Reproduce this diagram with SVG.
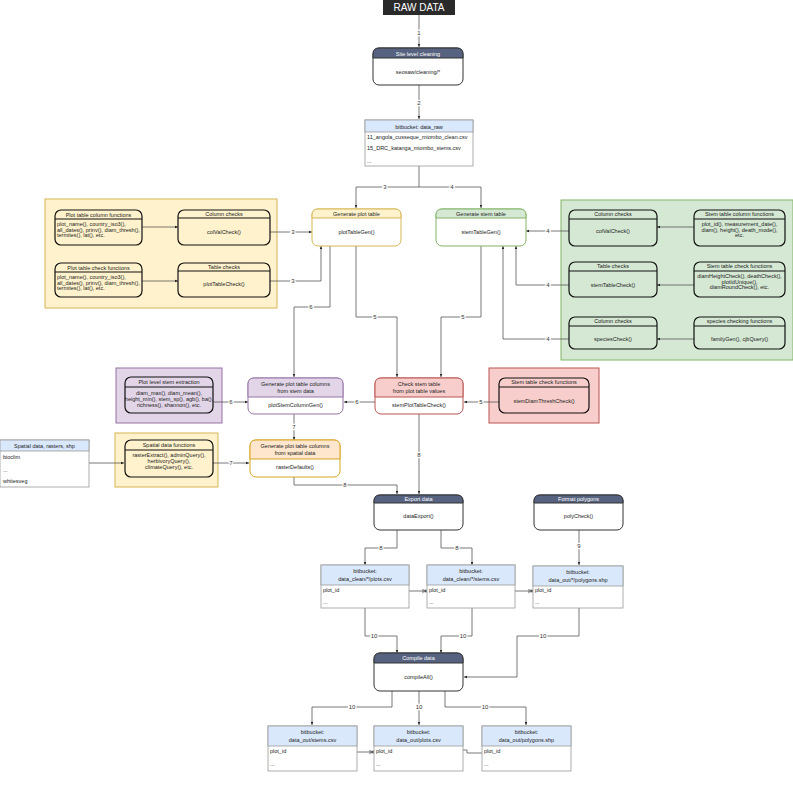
<svg xmlns="http://www.w3.org/2000/svg" width="793" height="800" viewBox="0 0 793 800">
<style>
text{font-family:"Liberation Sans",Arial,sans-serif;font-size:5.5px;fill:#222}
.c{text-anchor:middle}
.hw{fill:#fff;text-anchor:middle}
.dk{fill:#fff;stroke:#333;stroke-width:1}
.dkh{fill:#56627f;stroke:#333;stroke-width:1}
.blk{fill:none;stroke:#111;stroke-width:1.2}
.tb{fill:#fff;stroke:#9a9a9a;stroke-width:0.8}
.tbh{fill:#dae8fc;stroke:#9a9a9a;stroke-width:0.8}
.ln{fill:none;stroke:#555;stroke-width:0.8;marker-end:url(#a)}
.er{fill:none;stroke:#555;stroke-width:0.8;marker-start:url(#b);marker-end:url(#b)}
.lbl{font-size:6px;text-anchor:middle;stroke:#fff;stroke-width:2.5;paint-order:stroke;fill:#333}
</style>
<defs>
<marker id="a" viewBox="0 0 10 10" refX="10" refY="5" markerWidth="4" markerHeight="4" orient="auto"><path d="M0,1 L10,5 L0,9 Z" fill="#222"/></marker>
<marker id="b" viewBox="0 0 10 10" refX="10" refY="5" markerWidth="5" markerHeight="5" orient="auto" markerUnits="userSpaceOnUse"><path d="M0,5 H10 M8,1 V9 M0,1 L8,5 L0,9" fill="none" stroke="#333" stroke-width="1"/></marker>
</defs>
<rect width="793" height="800" fill="#fff"/>

<!-- containers -->
<g id="cont-yellow"><rect x="45" y="199" width="232" height="109" fill="#fff2cc" stroke="#d6b656"/></g>
<g id="cont-green"><rect x="561" y="200" width="232" height="160" fill="#d5e8d4" stroke="#82b366"/></g>
<g id="cont-purple"><rect x="116" y="368" width="106" height="55" fill="#e1d5e7" stroke="#9673a6"/></g>
<g id="cont-red"><rect x="489" y="368" width="110" height="55" fill="#f8cecc" stroke="#b85450"/></g>
<g id="cont-yellow2"><rect x="115" y="433" width="103" height="54" fill="#fff2cc" stroke="#d6b656"/></g>

<g id="connectors">
<path class="ln" d="M419,15 V47"/>
<path class="ln" d="M419,85 V119"/>
<path class="ln" d="M419,166 V187 H356 V208"/>
<path class="ln" d="M419,187 H481 V208"/>
<path class="ln" d="M142,227 H178"/>
<path class="ln" d="M142,281 H178"/>
<path class="ln" d="M270,232 H312"/>
<path class="ln" d="M270,281 H321 V246"/>
<path class="ln" d="M694,227 H657"/>
<path class="ln" d="M694,285 H657"/>
<path class="ln" d="M694,339 H657"/>
<path class="ln" d="M569,231 H526"/>
<path class="ln" d="M569,285 H516 V246"/>
<path class="ln" d="M569,339 H503 V246"/>
<path class="ln" d="M330,246 V307 H294 V377"/>
<path class="ln" d="M356,246 V317 H397 V377"/>
<path class="ln" d="M481,246 V317 H441 V377"/>
<path class="ln" d="M213,402 H248"/>
<path class="ln" d="M375,402 H344"/>
<path class="ln" d="M499,402 H464"/>
<path class="ln" d="M294,414 V440"/>
<path class="ln" d="M89,463 H124"/>
<path class="ln" d="M213,463 H249"/>
<path class="ln" d="M294,477 V485 H397 V494"/>
<path class="ln" d="M419,414 V494"/>
<path class="ln" d="M397,530 V548 H365 V565"/>
<path class="ln" d="M441,530 V548 H472 V565"/>
<path class="ln" d="M579,530 V565"/>
<path class="ln" d="M365,608 V636 H397 V653"/>
<path class="ln" d="M472,608 V636 H441 V653"/>
<path class="ln" d="M579,608 V636 H517 V677 H464"/>
<path class="ln" d="M392,691 V707 H312 V725"/>
<path class="ln" d="M419,691 V725"/>
<path class="ln" d="M445,691 V707 H526 V725"/>
<path class="er" d="M409,591 H427"/>
<path class="er" d="M515,591 H533"/>
<path class="er" d="M357,752 H374"/>
<path fill="none" stroke="#555" stroke-width="0.8" d="M463,750 H467 V753 H482"/>
<text class="lbl" x="419" y="35">1</text>
<text class="lbl" x="419" y="105">2</text>
<text class="lbl" x="385" y="189">3</text>
<text class="lbl" x="452" y="189">4</text>
<text class="lbl" x="293" y="234">3</text>
<text class="lbl" x="293" y="283">3</text>
<text class="lbl" x="548" y="233">4</text>
<text class="lbl" x="548" y="287">4</text>
<text class="lbl" x="548" y="341">4</text>
<text class="lbl" x="311" y="309">6</text>
<text class="lbl" x="375" y="319">5</text>
<text class="lbl" x="463" y="319">5</text>
<text class="lbl" x="231" y="404">6</text>
<text class="lbl" x="357" y="404">6</text>
<text class="lbl" x="481" y="404">5</text>
<text class="lbl" x="294" y="429">7</text>
<text class="lbl" x="231" y="465">7</text>
<text class="lbl" x="345" y="487">8</text>
<text class="lbl" x="419" y="457">8</text>
<text class="lbl" x="381" y="550">8</text>
<text class="lbl" x="457" y="550">8</text>
<text class="lbl" x="579" y="548">9</text>
<text class="lbl" x="374" y="638">10</text>
<text class="lbl" x="463" y="638">10</text>
<text class="lbl" x="543" y="638">10</text>
<text class="lbl" x="352" y="709">10</text>
<text class="lbl" x="419" y="709">10</text>
<text class="lbl" x="485" y="709">10</text>
</g>

<g id="raw-data"><rect x="383" y="0" width="72" height="15" fill="#2a2a2a"/><text x="419" y="11" class="hw" style="font-size:10px">RAW DATA</text></g>

<g id="site-cleaning">
<rect class="dk" x="373" y="48" width="90" height="37" rx="6"/>
<path class="dkh" d="M373,58 V54 Q373,48 379,48 H457 Q463,48 463,54 V58 Z"/>
<text class="hw" x="418" y="55.5">Site level cleaning</text>
<text class="c" x="418" y="74">seosaw/cleaning/*</text>
</g>

<g id="data-raw">
<rect class="tb" x="365" y="120" width="108" height="46"/>
<rect class="tbh" x="365" y="120" width="108" height="12"/>
<text class="c" x="419" y="128.5">bitbucket: data_raw</text>
<text x="367" y="139">11_angola_cusseque_miombo_clean.csv</text>
<text x="367" y="150">15_DRC_katanga_miombo_stems.csv</text>
<text x="367" y="163">...</text>
</g>

<g id="plot-table">
<rect x="312" y="209" width="89" height="37" rx="6" fill="#fff" stroke="#d6b656"/>
<path d="M312,218 V215 Q312,209 318,209 H395 Q401,209 401,215 V218 Z" fill="#fff2cc" stroke="#d6b656"/>
<text class="c" x="356.5" y="216">Generate plot table</text>
<text class="c" x="356.5" y="234">plotTableGen()</text>
</g>

<g id="stem-table">
<rect x="436" y="209" width="90" height="37" rx="6" fill="#fff" stroke="#82b366"/>
<path d="M436,218 V215 Q436,209 442,209 H520 Q526,209 526,215 V218 Z" fill="#d5e8d4" stroke="#82b366"/>
<text class="c" x="481" y="216">Generate stem table</text>
<text class="c" x="481" y="234">stemTableGen()</text>
</g>

<g id="plot-col-funcs">
<rect class="blk" x="55" y="210" width="87" height="35" rx="6"/>
<line x1="55" y1="219" x2="142" y2="219" stroke="#111"/>
<text class="c" x="98.5" y="216.5">Plot table column functions</text>
<text x="57" y="226">plot_name(), country_iso3(),</text>
<text x="57" y="231.5">all_dates(), prinv(), diam_thresh(),</text>
<text x="57" y="237">termites(), lat(), etc.</text>
</g>
<g id="plot-col-checks">
<rect class="blk" x="178" y="210" width="92" height="35" rx="6"/>
<line x1="178" y1="218" x2="270" y2="218" stroke="#111"/>
<text class="c" x="224" y="215.5">Column checks</text>
<text class="c" x="224" y="234">colValCheck()</text>
</g>
<g id="plot-check-funcs">
<rect class="blk" x="55" y="263" width="87" height="34" rx="6"/>
<line x1="55" y1="272" x2="142" y2="272" stroke="#111"/>
<text class="c" x="98.5" y="269.5">Plot table check functions</text>
<text x="57" y="279">plot_name(), country_iso3(),</text>
<text x="57" y="284.5">all_dates(), prinv(), diam_thresh(),</text>
<text x="57" y="290">termites(), lat(), etc.</text>
</g>
<g id="plot-table-checks">
<rect class="blk" x="178" y="263" width="92" height="34" rx="6"/>
<line x1="178" y1="271" x2="270" y2="271" stroke="#111"/>
<text class="c" x="224" y="268.5">Table checks</text>
<text class="c" x="224" y="286">plotTableCheck()</text>
</g>

<g id="stem-col-checks">
<rect class="blk" x="569" y="210" width="88" height="36" rx="6"/>
<line x1="569" y1="219" x2="657" y2="219" stroke="#111"/>
<text class="c" x="613" y="216">Column checks</text>
<text class="c" x="613" y="233">colValCheck()</text>
</g>
<g id="stem-col-funcs">
<rect class="blk" x="694" y="210" width="91" height="36" rx="6"/>
<line x1="694" y1="219" x2="785" y2="219" stroke="#111"/>
<text class="c" x="739.5" y="216">Stem table column functions</text>
<text class="c" x="739.5" y="226">plot_id(), measurement_date(),</text>
<text class="c" x="739.5" y="231.5">diam(), height(), death_mode(),</text>
<text class="c" x="739.5" y="237">etc.</text>
</g>
<g id="stem-table-checks">
<rect class="blk" x="569" y="262" width="88" height="35" rx="6"/>
<line x1="569" y1="271" x2="657" y2="271" stroke="#111"/>
<text class="c" x="613" y="268">Table checks</text>
<text class="c" x="613" y="287">stemTableCheck()</text>
</g>
<g id="stem-check-funcs">
<rect class="blk" x="694" y="262" width="91" height="35" rx="6"/>
<line x1="694" y1="271" x2="785" y2="271" stroke="#111"/>
<text class="c" x="739.5" y="268">Stem table check functions</text>
<text class="c" x="739.5" y="278">diamHeightCheck(), deathCheck(),</text>
<text class="c" x="739.5" y="283.5">plotIdUnique(),</text>
<text class="c" x="739.5" y="289">diamRoundCheck(), etc.</text>
</g>
<g id="species-checks">
<rect class="blk" x="569" y="317" width="88" height="32" rx="6"/>
<line x1="569" y1="326" x2="657" y2="326" stroke="#111"/>
<text class="c" x="613" y="323">Column checks</text>
<text class="c" x="613" y="341">speciesCheck()</text>
</g>
<g id="species-funcs">
<rect class="blk" x="694" y="317" width="91" height="32" rx="6"/>
<line x1="694" y1="326" x2="785" y2="326" stroke="#111"/>
<text class="c" x="739.5" y="323">species checking functions</text>
<text class="c" x="739.5" y="341">familyGen(), cjbQuery()</text>
</g>

<g id="plot-stem-extract">
<rect class="blk" x="125" y="377" width="88" height="36" rx="6"/>
<line x1="125" y1="387" x2="213" y2="387" stroke="#111"/>
<text class="c" x="169" y="384">Plot level stem extraction</text>
<text class="c" x="169" y="395">diam_max(), diam_mean(),</text>
<text class="c" x="169" y="401">height_min(), stem_sp(), agb(), ba(),</text>
<text class="c" x="169" y="407">richness(), shannon(), etc.</text>
</g>
<g id="plot-stem-col-gen">
<rect x="248" y="378" width="95" height="36" rx="6" fill="#fff" stroke="#9673a6"/>
<path d="M248,397 V384 Q248,378 254,378 H337 Q343,378 343,384 V397 Z" fill="#e1d5e7" stroke="#9673a6"/>
<text class="c" x="295.5" y="386">Generate plot table columns</text>
<text class="c" x="295.5" y="393">from stem data</text>
<text class="c" x="295.5" y="407">plotStemColumnGen()</text>
</g>
<g id="check-stem-table">
<rect x="375" y="378" width="88" height="36" rx="6" fill="#fff" stroke="#b85450"/>
<path d="M375,397 V384 Q375,378 381,378 H457 Q463,378 463,384 V397 Z" fill="#f8cecc" stroke="#b85450"/>
<text class="c" x="419" y="386">Check stem table</text>
<text class="c" x="419" y="393">from plot table values</text>
<text class="c" x="419" y="407">stemPlotTableCheck()</text>
</g>
<g id="stem-diam-funcs">
<rect class="blk" x="499" y="378" width="90" height="35" rx="6"/>
<line x1="499" y1="387" x2="589" y2="387" stroke="#111"/>
<text class="c" x="544" y="384">Stem table check functions</text>
<text class="c" x="544" y="403">stemDiamThreshCheck()</text>
</g>

<g id="spatial-data">
<rect class="tb" x="0" y="440" width="89" height="47"/>
<rect class="tbh" x="0" y="440" width="89" height="11"/>
<text class="c" x="44.5" y="448">Spatial data, rasters, shp</text>
<text x="3" y="459">bioclim</text>
<text x="3" y="472">...</text>
<text x="3" y="483">whitesveg</text>
</g>
<g id="spatial-funcs">
<rect class="blk" x="125" y="440" width="88" height="37" rx="6"/>
<line x1="125" y1="450" x2="213" y2="450" stroke="#111"/>
<text class="c" x="169" y="447">Spatial data functions</text>
<text class="c" x="169" y="457">rasterExtract(), adminQuery(),</text>
<text class="c" x="169" y="463">herbivoryQuery(),</text>
<text class="c" x="169" y="469">climateQuery(), etc.</text>
</g>
<g id="raster-defaults">
<rect x="250" y="440" width="90" height="37" rx="6" fill="#fff" stroke="#d6a520"/>
<path d="M250,459 V446 Q250,440 256,440 H334 Q340,440 340,446 V459 Z" fill="#ffe6cc" stroke="#d6a520"/>
<text class="c" x="295" y="448">Generate plot table columns</text>
<text class="c" x="295" y="455">from spatial data</text>
<text class="c" x="295" y="469">rasterDefaults()</text>
</g>

<g id="export-data">
<rect class="dk" x="374" y="495" width="89" height="35" rx="6"/>
<path class="dkh" d="M374,503 V501 Q374,495 380,495 H457 Q463,495 463,501 V503 Z"/>
<text class="hw" x="418.5" y="501">Export data</text>
<text class="c" x="418.5" y="518">dataExport()</text>
</g>
<g id="format-polygons">
<rect class="dk" x="534" y="495" width="89" height="35" rx="6"/>
<path class="dkh" d="M534,503 V501 Q534,495 540,495 H617 Q623,495 623,501 V503 Z"/>
<text class="hw" x="578.5" y="501">Format polygons</text>
<text class="c" x="578.5" y="518">polyCheck()</text>
</g>

<g id="clean-plots">
<rect class="tb" x="321" y="565" width="88" height="43"/>
<rect class="tbh" x="321" y="565" width="88" height="20"/>
<text class="c" x="365" y="573">bitbucket:</text>
<text class="c" x="365" y="580.5">data_clean/*/plots.csv</text>
<text x="323" y="592">plot_id</text>
<text x="323" y="604">...</text>
</g>
<g id="clean-stems">
<rect class="tb" x="427" y="565" width="88" height="43"/>
<rect class="tbh" x="427" y="565" width="88" height="20"/>
<text class="c" x="471" y="573">bitbucket:</text>
<text class="c" x="471" y="580.5">data_clean/*/stems.csv</text>
<text x="429" y="592">plot_id</text>
<text x="429" y="604">...</text>
</g>
<g id="out-polygons-mid">
<rect class="tb" x="533" y="566" width="90" height="42"/>
<rect class="tbh" x="533" y="566" width="90" height="20"/>
<text class="c" x="578" y="574">bitbucket:</text>
<text class="c" x="578" y="581.5">data_out/*/polygons.shp</text>
<text x="535" y="592">plot_id</text>
<text x="535" y="604">...</text>
</g>

<g id="compile-data">
<rect class="dk" x="374" y="653" width="89" height="38" rx="6"/>
<path class="dkh" d="M374,663 V659 Q374,653 380,653 H457 Q463,653 463,659 V663 Z"/>
<text class="hw" x="418.5" y="660">Compile data</text>
<text class="c" x="418.5" y="679">compileAll()</text>
</g>

<g id="out-stems">
<rect class="tb" x="268" y="726" width="89" height="45"/>
<rect class="tbh" x="268" y="726" width="89" height="20"/>
<text class="c" x="312.5" y="734">bitbucket:</text>
<text class="c" x="312.5" y="741.5">data_out/stems.csv</text>
<text x="270" y="753">plot_id</text>
<text x="270" y="766">...</text>
</g>
<g id="out-plots">
<rect class="tb" x="374" y="726" width="89" height="45"/>
<rect class="tbh" x="374" y="726" width="89" height="20"/>
<text class="c" x="418.5" y="734">bitbucket:</text>
<text class="c" x="418.5" y="741.5">data_out/plots.csv</text>
<text x="376" y="753">plot_id</text>
<text x="376" y="766">...</text>
</g>
<g id="out-polygons">
<rect class="tb" x="482" y="726" width="89" height="45"/>
<rect class="tbh" x="482" y="726" width="89" height="20"/>
<text class="c" x="526.5" y="734">bitbucket:</text>
<text class="c" x="526.5" y="741.5">data_out/polygons.shp</text>
<text x="484" y="753">plot_id</text>
<text x="484" y="766">...</text>
</g>
</svg>
